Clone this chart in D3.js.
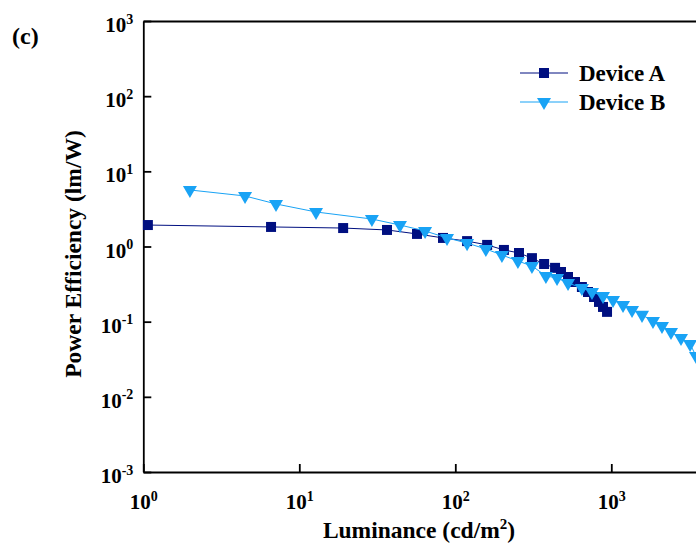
<!DOCTYPE html>
<html>
<head>
<meta charset="utf-8">
<script src="https://cdn.jsdelivr.net/npm/d3@7"></script>
<style>
  body { margin: 0; background: #fff; }
  svg { display: block; font-family: "Liberation Serif", "Times New Roman", serif; font-weight: bold; }
</style>
</head>
<body>
<div id="chart"></div>
<script>
// Luminance (cd/m2) and power efficiency (lm/W)
const lumA = [1.07, 6.59, 19.1, 36.5, 56.8, 83.4, 119, 160, 205, 256, 310, 371, 436, 476, 528, 585, 648, 709, 775, 834, 885, 939];
const peA  = [1.93, 1.82, 1.76, 1.66, 1.47, 1.30, 1.18, 1.05, 0.90, 0.82, 0.70, 0.585, 0.52, 0.458, 0.393, 0.337, 0.289, 0.248, 0.213, 0.183, 0.157, 0.135];

const lumB = [1.99, 4.49, 7.09, 12.8, 29.2, 44.2, 64.0, 88.5, 119, 157, 199, 252, 310, 381, 449, 528, 648, 752, 885, 1026, 1189, 1358, 1574, 1850, 2113, 2414, 2798, 3199, 3491];
const peB  = [5.65, 4.70, 3.68, 2.88, 2.32, 1.93, 1.61, 1.30, 1.11, 0.927, 0.771, 0.641, 0.551, 0.406, 0.381, 0.327, 0.281, 0.248, 0.220, 0.194, 0.167, 0.143, 0.123, 0.102, 0.0877, 0.0729, 0.0607, 0.0505, 0.0349];

const xTicks = [1, 10, 100, 1000];
const yTicks = [1e-3, 1e-2, 1e-1, 1, 10, 100, 1000];

const W = 696, H = 548;
const colorA = "#000f80";
const colorB = "#19a3f5";

const svg = d3.select("#chart").append("svg")
  .attr("width", W)
  .attr("height", H);

// log scales, x runs past the right edge of the picture
const x = d3.scaleLog().domain([1, 1e4]).range([143.3, 767.3]);
const y = d3.scaleLog().domain([1e-3, 1e3]).range([472, 21]);

// label "10" with superscript exponent
function powLabel(sel) {
  sel.each(function(d) {
    const t = d3.select(this).text(null);
    t.append("tspan").text("10");
    t.append("tspan")
      .attr("dy", "-0.6em")
      .style("font-size", "14px")
      .text(Math.round(Math.log10(d)));
  });
}

const xAxis = svg.append("g")
  .attr("transform", "translate(0,472)")
  .call(d3.axisBottom(x).tickValues(xTicks).tickSizeInner(-8).tickSizeOuter(0).tickPadding(22));
xAxis.selectAll(".tick text").style("font-size", "21px").call(powLabel);

const yAxis = svg.append("g")
  .attr("transform", "translate(143.3,0)")
  .call(d3.axisLeft(y).tickValues(yTicks).tickSizeInner(-8).tickSizeOuter(0).tickPadding(10));
yAxis.selectAll(".tick text").style("font-size", "21px").attr("dy", "0.5em").call(powLabel);

// top frame line
svg.append("g")
  .attr("transform", "translate(0,21)")
  .call(d3.axisTop(x).tickValues([]).tickSizeOuter(0));

svg.selectAll("g").attr("font-family", null).attr("font-size", null);
svg.selectAll(".domain, .tick line").attr("stroke", "#000").attr("stroke-width", 1.8);
svg.selectAll(".tick text").attr("fill", "#000");

// axis titles
svg.append("text")
  .attr("x", 419).attr("y", 538)
  .attr("text-anchor", "middle")
  .style("font-size", "23.5px")
  .html("Luminance (cd/m<tspan dy='-9' style='font-size:15px'>2</tspan><tspan dy='9'>)</tspan>");

svg.append("text")
  .attr("transform", "translate(81,254) rotate(-90)")
  .attr("text-anchor", "middle")
  .style("font-size", "23.5px")
  .text("Power Efficiency (lm/W)");

svg.append("text")
  .attr("x", 12).attr("y", 44)
  .style("font-size", "24px")
  .text("(c)");

// series
const line = d3.line().x(d => x(d[0])).y(d => y(d[1]));
const dataA = lumA.map((v, i) => [v, peA[i]]);
const dataB = lumB.map((v, i) => [v, peB[i]]);

const square = d3.symbol().type(d3.symbolSquare).size(100);
const tri = d3.symbol().type(d3.symbolTriangle).size(85);

svg.append("path").datum(dataA)
  .attr("fill", "none").attr("stroke", colorA).attr("stroke-width", 1)
  .attr("d", line);
svg.selectAll(".ptA").data(dataA).enter().append("path")
  .attr("class", "ptA")
  .attr("transform", d => `translate(${x(d[0])},${y(d[1])})`)
  .attr("d", square)
  .attr("fill", colorA);

svg.append("path").datum(dataB)
  .attr("fill", "none").attr("stroke", colorB).attr("stroke-width", 1)
  .attr("d", line);
svg.selectAll(".ptB").data(dataB).enter().append("path")
  .attr("class", "ptB")
  .attr("transform", d => `translate(${x(d[0])},${y(d[1])}) rotate(180)`)
  .attr("d", tri)
  .attr("fill", colorB);

// legend
const legend = svg.append("g");
const items = [
  { name: "Device A", color: colorA, sym: square, rot: 0, y: 73 },
  { name: "Device B", color: colorB, sym: tri, rot: 180, y: 102 }
];
items.forEach(it => {
  legend.append("line")
    .attr("x1", 520).attr("x2", 568)
    .attr("y1", it.y).attr("y2", it.y)
    .attr("stroke", it.color).attr("stroke-width", 1);
  legend.append("path")
    .attr("transform", `translate(544,${it.y}) rotate(${it.rot})`)
    .attr("d", it.sym)
    .attr("fill", it.color);
  legend.append("text")
    .attr("x", 579).attr("y", it.y + 7.5)
    .style("font-size", "23px")
    .text(it.name);
});
</script>
</body>
</html>
